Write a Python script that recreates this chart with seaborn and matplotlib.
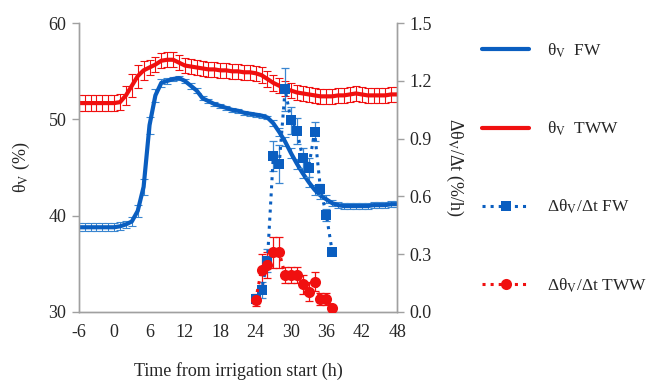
import numpy as np
import pandas as pd
import matplotlib
matplotlib.use("Agg")
import matplotlib.pyplot as plt
import seaborn as sns
from matplotlib.lines import Line2D

# ---------------- data ----------------
hours = list(range(-6, 49))
theta_fw = [38.8, 38.8, 38.8, 38.8, 38.8, 38.8, 38.8, 38.9, 39.1, 39.4, 40.5, 43.0, 49.4,
            52.5, 53.8, 54.0, 54.2, 54.3, 54.0, 53.5, 53.0, 52.2, 51.9, 51.6, 51.4, 51.2,
            51.0, 50.9, 50.7, 50.6, 50.5, 50.4, 50.2, 49.6, 48.7, 47.7, 46.5, 45.4, 44.4,
            43.5, 42.7, 42.1, 41.7, 41.3, 41.1, 41.0, 41.0, 41.0, 41.0, 41.0, 41.1, 41.1,
            41.1, 41.2, 41.2]
theta_fw_err = ([0.4] * 9
                + [0.5, 0.6, 0.8, 0.9, 0.7, 0.4, 0.3, 0.2, 0.2, 0.2, 0.3, 0.3]
                + [0.2] * 12
                + [0.3, 0.4, 0.5, 0.5, 0.5, 0.5, 0.5, 0.5, 0.4, 0.4]
                + [0.3] * 12)
theta_tww = [51.7, 51.7, 51.7, 51.7, 51.7, 51.7, 51.7, 51.8, 52.5, 53.5, 54.5, 55.1, 55.4,
             55.7, 56.1, 56.2, 56.2, 55.9, 55.6, 55.5, 55.4, 55.3, 55.2, 55.2, 55.1, 55.1,
             55.0, 55.0, 54.9, 54.9, 54.8, 54.6, 54.2, 53.8, 53.5, 53.2, 53.0, 52.8, 52.7,
             52.6, 52.5, 52.4, 52.4, 52.4, 52.5, 52.5, 52.6, 52.7, 52.6, 52.5, 52.5, 52.5,
             52.5, 52.6, 52.6]
theta_tww_err = [0.8] * 8 + [1.0, 1.2, 1.2, 1.0] + [0.8] * 43

rate_hours = list(range(24, 38))
rate_fw = [0.066, 0.114, 0.266, 0.81, 0.768, 1.156, 0.996, 0.94, 0.80, 0.75, 0.937,
           0.637, 0.505, 0.311]
rate_fw_err = [0.02, 0.04, 0.06, 0.08, 0.10, 0.11, 0.07, 0.07, 0.05, 0.05, 0.05, 0.03,
               0.03, 0.0]
rate_tww = [0.062, 0.22, 0.244, 0.311, 0.311, 0.192, 0.192, 0.192, 0.144, 0.105, 0.157,
            0.066, 0.066, 0.019]
rate_tww_err = [0.03, 0.08, 0.07, 0.08, 0.08, 0.04, 0.04, 0.04, 0.05, 0.05, 0.05, 0.03,
                0.03, 0.01]

xticks = list(range(-6, 49, 6))
yticks_left = [30, 40, 50, 60]
yticks_right = [0.0, 0.3, 0.6, 0.9, 1.2, 1.5]

# ---------------- style ----------------
sns.set_style("white")
plt.rcParams['font.family'] = ['Liberation Serif', 'DejaVu Serif']
plt.rcParams['mathtext.fontset'] = 'stix'

BLUE = "#0A5EC0"
BLUE_L = "#3A86D0"
RED = "#F01010"
GREY = "#A0A0A0"

fig = plt.figure(figsize=(6.51, 3.8), dpi=100)
ax = fig.add_axes([0.121, 0.179, 0.489, 0.760])
ax2 = ax.twinx()

df_theta = pd.DataFrame({"t": hours * 2,
                         "v": theta_fw + theta_tww,
                         "s": ["FW"] * len(hours) + ["TWW"] * len(hours)})
df_rate = pd.DataFrame({"t": rate_hours * 2,
                        "v": rate_fw + rate_tww,
                        "s": ["FW"] * len(rate_hours) + ["TWW"] * len(rate_hours)})

# error bars for theta
ax.errorbar(hours, theta_tww, yerr=theta_tww_err, fmt='none', ecolor=RED,
            elinewidth=0.8, capsize=3, capthick=0.8, zorder=2)
ax.errorbar(hours, theta_fw, yerr=theta_fw_err, fmt='none', ecolor=BLUE_L,
            elinewidth=0.8, capsize=3, capthick=0.8, zorder=2)
sns.lineplot(data=df_theta, x="t", y="v", hue="s", palette={"FW": BLUE, "TWW": RED},
             linewidth=3, ax=ax, legend=False, zorder=3)

# rate series
ax2.errorbar(rate_hours, rate_fw, yerr=rate_fw_err, fmt='none', ecolor=BLUE_L,
             elinewidth=0.9, capsize=3, capthick=0.9, zorder=2)
ax2.errorbar(rate_hours, rate_tww, yerr=rate_tww_err, fmt='none', ecolor=RED,
             elinewidth=0.9, capsize=3, capthick=0.9, zorder=2)
sns.lineplot(data=df_rate[df_rate.s == "FW"], x="t", y="v", color=BLUE, linestyle=':',
             linewidth=2.2, marker='s', markersize=7, markeredgewidth=0, ax=ax2, zorder=3)
sns.lineplot(data=df_rate[df_rate.s == "TWW"], x="t", y="v", color=RED, linestyle=':',
             linewidth=2.2, marker='o', markersize=8, markeredgewidth=0, ax=ax2, zorder=3)

# axes
ax.set_xlim(-6, 48)
ax.set_ylim(30, 60)
ax2.set_ylim(0, 1.5)
ax.set_xticks(xticks)
ax.set_xticklabels([str(v) for v in xticks])
ax.set_yticks(yticks_left)
ax2.set_yticks(yticks_right)
ax2.set_yticklabels([f"{v:.1f}" for v in yticks_right])

for a in (ax, ax2):
    a.spines["top"].set_visible(False)
    for side in ("left", "right", "bottom"):
        a.spines[side].set_color(GREY)
        a.spines[side].set_linewidth(1.0)
    a.tick_params(axis='both', direction='out', length=5, width=1.0, color=GREY,
                  labelsize=13, pad=4)

ax.set_xlabel("")
ax.set_ylabel("θ$_\\mathrm{V}$ (%)", fontsize=13, labelpad=12)
ax2.set_ylabel("Δθ$_\\mathrm{V}$/Δt (%/h)", fontsize=13, rotation=270, labelpad=24)
fig.text(0.366, 0.0, "Time from irrigation start (h)", fontsize=13, ha='center', va='bottom')

# legend
handles = [
    Line2D([], [], color=BLUE, lw=3),
    Line2D([], [], color=RED, lw=3),
    Line2D([], [], color=BLUE, lw=2.2, ls=':', marker='s', markersize=7, markeredgewidth=0),
    Line2D([], [], color=RED, lw=2.2, ls=':', marker='o', markersize=8, markeredgewidth=0),
]
labels = ["θ$_\\mathrm{V}$  FW", "θ$_\\mathrm{V}$  TWW",
          "Δθ$_\\mathrm{V}$/Δt FW", "Δθ$_\\mathrm{V}$/Δt TWW"]
fig.legend(handles, labels, loc='upper left', bbox_to_anchor=(0.716, 0.932),
           frameon=False, fontsize=12.5, handlelength=2.75, handletextpad=1.0,
           labelspacing=3.45)

fig.savefig("out.png", dpi=100)
